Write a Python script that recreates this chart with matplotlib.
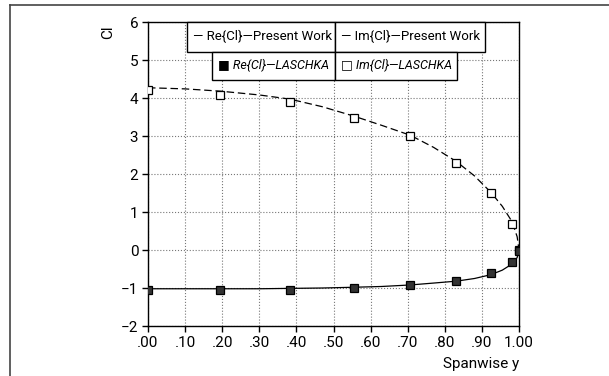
import numpy as np
import matplotlib
matplotlib.use("Agg")
import matplotlib.pyplot as plt
from matplotlib.patches import Rectangle
from matplotlib.lines import Line2D

# spanwise stations
span = [0.0, 0.195, 0.383, 0.556, 0.707, 0.831, 0.924, 0.981, 1.0]

# LASCHKA reference values
re_laschka = [-1.04, -1.05, -1.04, -1.00, -0.92, -0.81, -0.61, -0.32, -0.02]
im_laschka = [4.20, 4.08, 3.90, 3.48, 3.00, 2.30, 1.50, 0.68, 0.00]

# present work curves
span_pw = [0.0, 0.1, 0.195, 0.3, 0.383, 0.47, 0.556, 0.63, 0.707, 0.77, 0.831, 0.88, 0.924, 0.955, 0.981, 0.995, 1.0]
re_pw = [-1.02, -1.02, -1.02, -1.02, -1.01, -1.0, -0.98, -0.96, -0.92, -0.87, -0.82, -0.75, -0.65, -0.53, -0.37, -0.2, 0.0]
im_pw = [4.27, 4.24, 4.18, 4.08, 3.97, 3.77, 3.52, 3.28, 3.02, 2.70, 2.33, 1.95, 1.52, 1.15, 0.75, 0.35, 0.0]

xticks = [0.0, 0.1, 0.2, 0.3, 0.4, 0.5, 0.6, 0.7, 0.8, 0.9, 1.0]
xticklabels = [".00", ".10", ".20", ".30", ".40", ".50", ".60", ".70", ".80", ".90", "1.00"]
yticks = [-2, -1, 0, 1, 2, 3, 4, 5, 6]

W, H = 609, 376
plt.rcParams["font.family"] = ["Roboto", "DejaVu Sans"]

fig = plt.figure(figsize=(W / 100, H / 100), dpi=100)
ax = fig.add_axes([148 / W, 1 - 326 / H, (519 - 148) / W, (326 - 22) / H])

def fx(px):
    return px / W

def fy(py):
    return 1 - py / H

# curves and markers
ax.plot(span_pw, im_pw, color="black", lw=0.9, ls=(0, (6, 3)), zorder=3)
ax.plot(span_pw, re_pw, color="black", lw=0.9, zorder=3)
ax.plot(span, im_laschka, ls="none", marker="s", ms=6, mfc="white", mec="black", mew=0.9, zorder=4)
ax.plot(span, re_laschka, ls="none", marker="s", ms=6, mfc="#333333", mec="black", mew=0.9, zorder=4)

ax.set_xlim(0, 1)
ax.set_ylim(-2, 6)
ax.set_xticks(xticks)
ax.set_xticklabels(xticklabels)
ax.set_yticks(yticks)
ax.set_yticklabels([str(v).replace("-", "\u2212") for v in yticks])
ax.tick_params(direction="out", length=4, width=1, labelsize=11, colors="black", pad=3)
ax.grid(True, color="#777777", ls=":", lw=0.8)
for s in ax.spines.values():
    s.set_linewidth(1.0)
    s.set_color("black")

# axis labels
fig.text(fx(108), fy(32), "Cl", rotation=90, ha="center", va="center", fontsize=11)
fig.text(fx(519), fy(364), "Spanwise y", ha="right", va="center", fontsize=11)

# legend table
boxes = [
    (187, 22, 335, 52, "\u2014 Re{Cl}\u2014Present Work", "normal", 9.5),
    (335, 22, 485, 52, "\u2014 Im{Cl}\u2014Present Work", "normal", 9.5),
    (212, 52, 335, 80, "\u25a0 Re{Cl}\u2014LASCHKA", "italic", 9),
    (335, 52, 457, 80, "\u25a1 Im{Cl}\u2014LASCHKA", "italic", 9),
]
for x0, y0, x1, y1, label, style, size in boxes:
    fig.add_artist(Rectangle((fx(x0), fy(y1)), fx(x1) - fx(x0), fy(y0) - fy(y1),
                             transform=fig.transFigure, facecolor="white",
                             edgecolor="black", lw=1.0, zorder=10))
    fig.text(fx(x0 + 6), fy((y0 + y1) / 2), label, ha="left", va="center",
             fontsize=size, style=style, zorder=11,
             family=["Roboto", "DejaVu Sans"])

# page frame
fig.add_artist(Line2D([fx(10), fx(609)], [fy(5), fy(5)], transform=fig.transFigure, color="#444444", lw=1.2))
fig.add_artist(Line2D([fx(10), fx(10)], [fy(5), fy(376)], transform=fig.transFigure, color="#444444", lw=1.2))

fig.savefig("out.png", dpi=100)
